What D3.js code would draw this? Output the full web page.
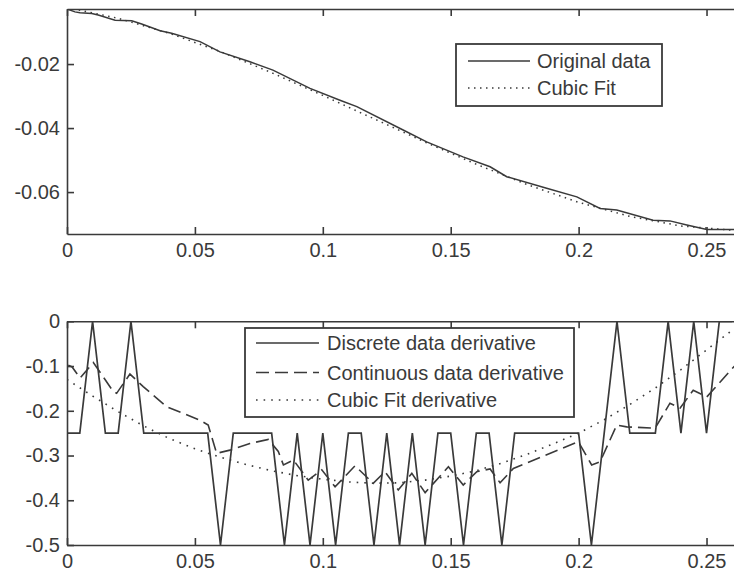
<!DOCTYPE html>
<html><head><meta charset="utf-8">
<script src="https://cdn.jsdelivr.net/npm/d3@7"></script>
<style>
body{margin:0;background:#fff;}
svg{display:block;font-family:"Liberation Sans",Arial,sans-serif;}
</style></head>
<body><svg id="c" width="734" height="573"></svg>
<script>
// ---------- data ----------
const xTicks = [0, 0.05, 0.1, 0.15, 0.2, 0.25];
const xTickLabels = ["0", "0.05", "0.1", "0.15", "0.2", "0.25"];
const topYTicks = [-0.02, -0.04, -0.06];
const topYTickLabels = ["-0.02", "-0.04", "-0.06"];
const botYTicks = [0, -0.1, -0.2, -0.3, -0.4, -0.5];
const botYTickLabels = ["0", "-0.1", "-0.2", "-0.3", "-0.4", "-0.5"];

const origX = [0, 0.0031, 0.0051, 0.0097, 0.0122, 0.0188, 0.0253, 0.0292, 0.0364, 0.0409, 0.052, 0.0598, 0.0715, 0.0805, 0.095, 0.1067, 0.1133, 0.1314, 0.1406, 0.1548, 0.1654, 0.1719, 0.1875, 0.1993, 0.2084, 0.2149, 0.2291, 0.2357, 0.2423, 0.2501, 0.2625];
const origY = [-0.0028, -0.0037, -0.0040, -0.0042, -0.0047, -0.0063, -0.0065, -0.0075, -0.0096, -0.0104, -0.0130, -0.0162, -0.0193, -0.0219, -0.0276, -0.0313, -0.0333, -0.0406, -0.0443, -0.0490, -0.0521, -0.0552, -0.0588, -0.0615, -0.0651, -0.0656, -0.0688, -0.0690, -0.0703, -0.0717, -0.0717];

const fitX = [0, 0.02, 0.04, 0.06, 0.08, 0.10, 0.12, 0.14, 0.16, 0.18, 0.20, 0.22, 0.24, 0.26, 0.2625];
const fitY = [-0.0023, -0.0057, -0.0104, -0.0161, -0.0227, -0.0298, -0.0371, -0.0444, -0.0513, -0.0577, -0.0632, -0.0676, -0.0706, -0.0719, -0.0720];

const discX = [0, 0.005, 0.01, 0.015, 0.02, 0.025, 0.03, 0.035, 0.04, 0.045, 0.05, 0.055, 0.06, 0.065, 0.07, 0.075, 0.08, 0.085, 0.09, 0.095, 0.1, 0.105, 0.11, 0.115, 0.12, 0.125, 0.13, 0.135, 0.14, 0.145, 0.15, 0.155, 0.16, 0.165, 0.17, 0.175, 0.18, 0.185, 0.19, 0.195, 0.2, 0.205, 0.21, 0.215, 0.22, 0.225, 0.23, 0.235, 0.24, 0.245, 0.25, 0.255, 0.26];
const discY = [-0.25, -0.25, 0, -0.25, -0.25, 0, -0.25, -0.25, -0.25, -0.25, -0.25, -0.25, -0.5, -0.25, -0.25, -0.25, -0.25, -0.5, -0.25, -0.5, -0.25, -0.5, -0.25, -0.25, -0.5, -0.25, -0.5, -0.25, -0.5, -0.25, -0.25, -0.5, -0.25, -0.25, -0.5, -0.25, -0.25, -0.25, -0.25, -0.25, -0.25, -0.5, -0.25, 0, -0.25, -0.25, -0.25, 0, -0.25, 0, -0.25, 0, 0];

const contX = [0.0005, 0.002, 0.0051, 0.0103, 0.0181, 0.0194, 0.0246, 0.0298, 0.039, 0.052, 0.0552, 0.0585, 0.0637, 0.0715, 0.0787, 0.0826, 0.0846, 0.0885, 0.0943, 0.0996, 0.1048, 0.1126, 0.1197, 0.1243, 0.1295, 0.1348, 0.14, 0.1491, 0.1549, 0.1602, 0.1654, 0.1693, 0.1745, 0.1999, 0.2051, 0.2084, 0.2149, 0.2188, 0.2299, 0.2357, 0.2397, 0.2448, 0.2501, 0.2625];
const contY = [-0.098, -0.102, -0.127, -0.092, -0.157, -0.161, -0.118, -0.146, -0.191, -0.221, -0.232, -0.295, -0.288, -0.273, -0.264, -0.291, -0.321, -0.310, -0.355, -0.332, -0.370, -0.323, -0.362, -0.336, -0.377, -0.340, -0.383, -0.325, -0.366, -0.336, -0.330, -0.361, -0.329, -0.269, -0.321, -0.314, -0.232, -0.236, -0.239, -0.183, -0.194, -0.154, -0.169, -0.090];

const cfdX = [0, 0.01, 0.02, 0.03, 0.04, 0.05, 0.06, 0.07, 0.08, 0.09, 0.10, 0.11, 0.12, 0.13, 0.14, 0.15, 0.16, 0.17, 0.18, 0.19, 0.20, 0.21, 0.22, 0.23, 0.24, 0.25, 0.26, 0.2625];
const cfdY = [-0.130, -0.167, -0.202, -0.234, -0.262, -0.285, -0.304, -0.320, -0.334, -0.345, -0.353, -0.359, -0.362, -0.361, -0.355, -0.346, -0.334, -0.317, -0.297, -0.274, -0.250, -0.220, -0.186, -0.149, -0.108, -0.064, -0.020, -0.010];

const topLegend = ["Original data", "Cubic Fit"];
const botLegend = ["Discrete data derivative", "Continuous data derivative", "Cubic Fit derivative"];

// ---------- drawing ----------
const ink = "#3a3a3a";
const svg = d3.select("#c");
const zip = (xs, ys) => xs.map((x, i) => [x, ys[i]]);

function panel(cfg) {
  const x = d3.scaleLinear().domain([0, 0.2625]).range([67, 738.5]);
  const y = d3.scaleLinear().domain(cfg.yDomain).range([cfg.bottom, cfg.top]);
  const g = svg.append("g");
  const id = "clip" + cfg.name;
  svg.append("clipPath").attr("id", id).append("rect")
    .attr("x", x.range()[0]).attr("y", cfg.top)
    .attr("width", x.range()[1] - x.range()[0]).attr("height", cfg.bottom - cfg.top);
  const dg = g.append("g").attr("clip-path", `url(#${id})`);
  const line = d3.line().x(d => x(d[0])).y(d => y(d[1]));
  cfg.series.forEach(s => {
    dg.append("path").datum(s.data).attr("d", line)
      .attr("fill", "none").attr("stroke", ink)
      .attr("stroke-width", s.w).attr("stroke-dasharray", s.dash || null)
      .attr("stroke-linejoin", "miter");
  });
  // axes
  const tl = 7;
  const bottomAxis = d3.axisBottom(x).tickValues(xTicks).tickFormat((d, i) => xTickLabels[i]).tickSizeInner(-tl).tickSizeOuter(0).tickPadding(9);
  const topAxis = d3.axisTop(x).tickValues(xTicks).tickFormat("").tickSizeInner(-tl).tickSizeOuter(0);
  const leftAxis = d3.axisLeft(y).tickValues(cfg.yTicks).tickFormat((d, i) => cfg.yLabels[i]).tickSizeInner(-tl).tickSizeOuter(0).tickPadding(7);
  const gb = g.append("g").attr("transform", `translate(0,${cfg.bottom})`).call(bottomAxis);
  const gt = g.append("g").attr("transform", `translate(0,${cfg.top})`).call(topAxis);
  const gl = g.append("g").attr("transform", `translate(67,0)`).call(leftAxis);
  [gb, gt, gl].forEach(a => {
    a.selectAll("path.domain").attr("stroke", ink).attr("stroke-width", 1.6);
    a.selectAll(".tick line").attr("stroke", ink).attr("stroke-width", 1.6);
    a.selectAll("text").attr("fill", ink).style("font-size", "20px").style("font-family", '"Liberation Sans",Arial,sans-serif');
  });
  gb.selectAll("text").attr("dy", "0.71em");
  // legend
  const L = cfg.legend;
  const lg = g.append("g");
  lg.append("rect").attr("x", L.x).attr("y", L.y).attr("width", L.w).attr("height", L.h)
    .attr("fill", "#fff").attr("stroke", ink).attr("stroke-width", 1.8);
  L.labels.forEach((t, i) => {
    const yy = L.rows[i];
    lg.append("line").attr("x1", L.sx1).attr("x2", L.sx2).attr("y1", yy).attr("y2", yy)
      .attr("stroke", ink).attr("stroke-width", cfg.series[i].w).attr("stroke-dasharray", cfg.series[i].dash || null);
    lg.append("text").attr("x", L.tx).attr("y", yy).attr("dy", "0.36em")
      .attr("fill", ink).style("font-size", "20px").text(t);
  });
}

panel({
  name: "top", top: 9, bottom: 234, yDomain: [-0.0731, -0.0028],
  yTicks: topYTicks, yLabels: topYTickLabels,
  series: [
    {data: zip(origX, origY), w: 1.5},
    {data: zip(fitX, fitY), w: 1.5, dash: "1.5,4.5"}
  ],
  legend: {x: 456, y: 44, w: 206, h: 62, rows: [61, 88], sx1: 468, sx2: 530, tx: 537, labels: topLegend}
});

panel({
  name: "bot", top: 321.3, bottom: 545, yDomain: [-0.5, 0],
  yTicks: botYTicks, yLabels: botYTickLabels,
  series: [
    {data: zip(discX, discY), w: 1.7},
    {data: zip(contX, contY), w: 1.6, dash: "13,6"},
    {data: zip(cfdX, cfdY), w: 1.6, dash: "1.6,6"}
  ],
  legend: {x: 245, y: 328, w: 329, h: 89, rows: [343, 372.5, 400], sx1: 256, sx2: 319, tx: 327, labels: botLegend}
});
</script></body></html>
